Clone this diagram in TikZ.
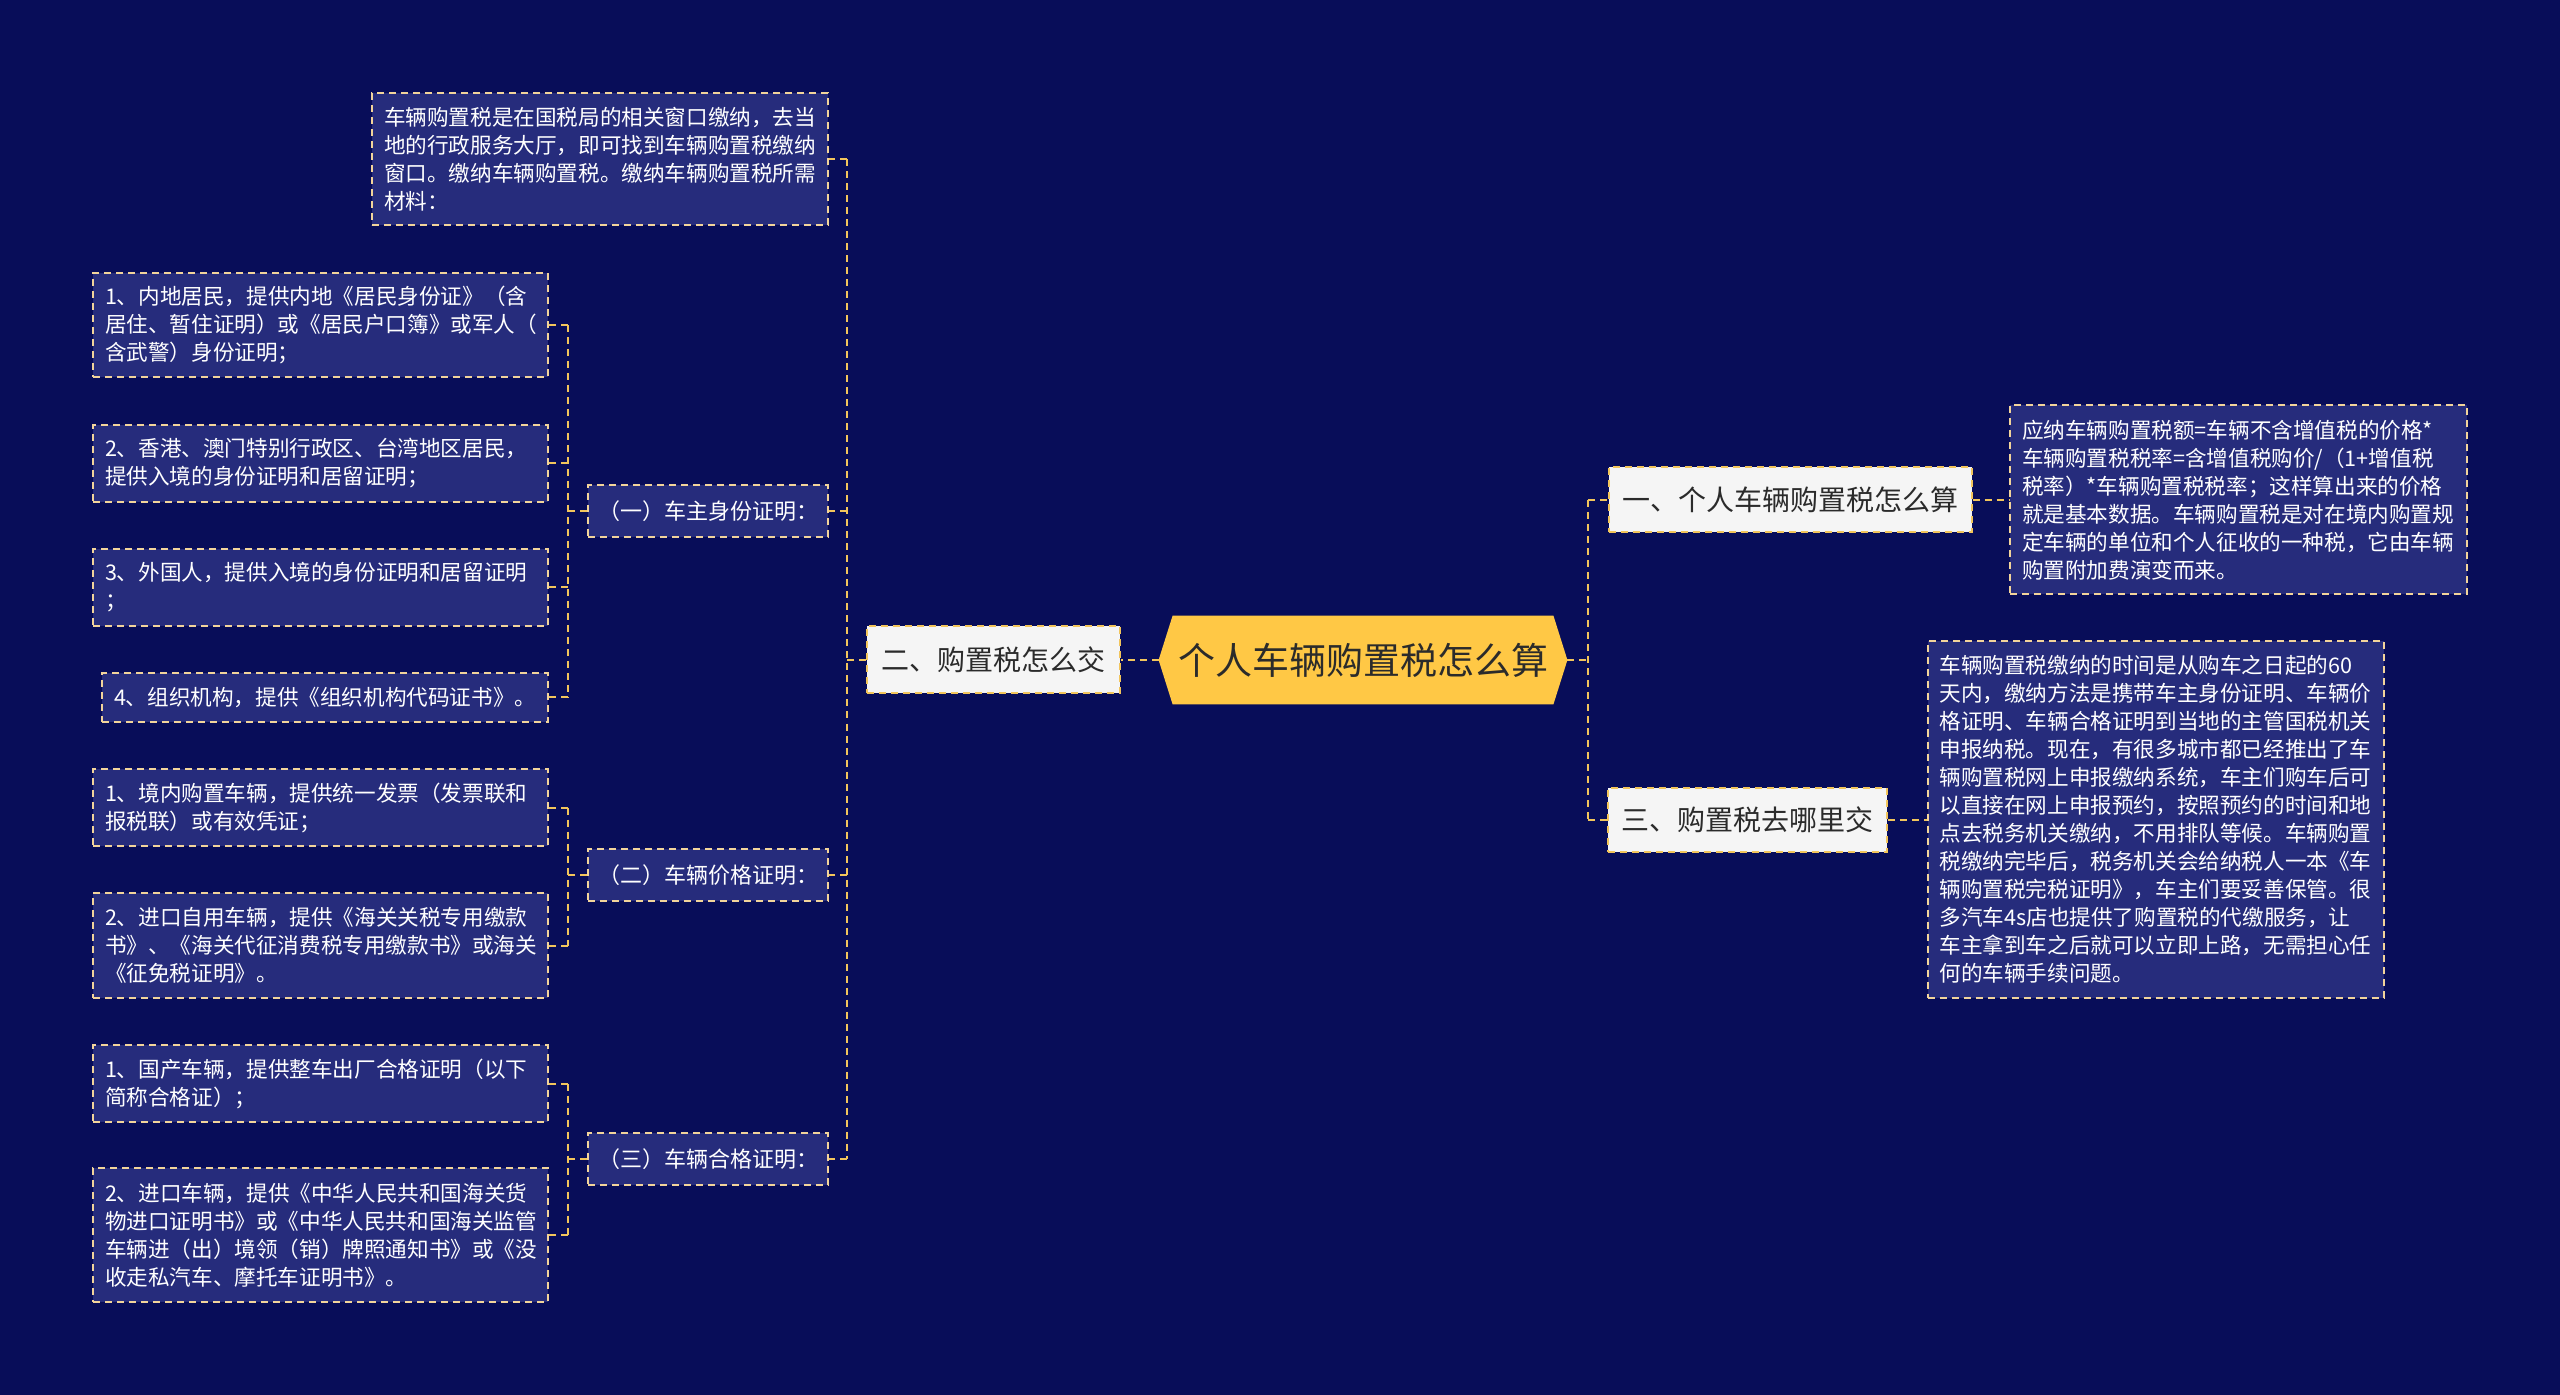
\documentclass[tikz,border=0pt]{standalone}
\usepackage{fontspec}
\newfontfamily\cjk{Noto Sans CJK SC}
\usetikzlibrary{positioning, backgrounds}

\definecolor{bgnavy}{HTML}{080D59}
\definecolor{boxnavy}{HTML}{262C7C}
\definecolor{boxedge}{HTML}{F2D49B}
\definecolor{linegold}{HTML}{F2C55C}
\definecolor{hubgold}{HTML}{FFC845}
\definecolor{topicwhite}{HTML}{F5F5F5}
\definecolor{inkdark}{HTML}{2B2B2B}

\begin{document}
\begin{tikzpicture}[x=0.5pt, y=-0.5pt,
      every node/.style={font=\cjk},
      leaf/.style={draw=boxedge, fill=boxnavy, dash pattern=on 3.5pt off 2.5pt,
                   line width=1pt, text=white, align=left, inner xsep=6pt, inner ysep=0pt,
                   font=\cjk\fontsize{10.8}{14}\selectfont},
      sub/.style={leaf, align=center, inner xsep=0pt, minimum width=120pt, minimum height=26pt,
                  font=\cjk\fontsize{11}{12}\selectfont},
      topic/.style={draw=linegold, fill=topicwhite, dash pattern=on 3.5pt off 2.5pt,
                    line width=1pt, text=inkdark, inner xsep=0pt,
                    font=\cjk\fontsize{14}{16}\selectfont},
      hub/.style={text=inkdark, inner sep=0pt, minimum width=204pt, minimum height=44pt,
                  font=\cjk\fontsize{18.5}{20}\selectfont},
      conn/.style={draw=linegold, line width=1pt, dash pattern=on 3.5pt off 2.5pt}]

    % ---- Canvas ----
    \begin{scope}[on background layer]
    \fill[bgnavy] (0,0) rectangle (2560,1395);
    \end{scope}
    \useasboundingbox (0,0) rectangle (2560,1395);

    % ---- Layout ----
    \def\lx{320.5}   % leaf column x
    \def\sx{708}     % sub column x
    \def\gx{568}     % leaf trunk x
    \def\tx{847}     % sub trunk x
    \def\rx{1588}    % right trunk x

    % ---- Root ----
    \node[hub] (root) at (1363, 660) {个人车辆购置税怎么算};
    \begin{scope}[on background layer]
    \fill[hubgold] (root.west) -- ([xshift=7pt]root.north west) -- ([xshift=-7pt]root.north east)
          -- (root.east) -- ([xshift=-7pt]root.south east) -- ([xshift=7pt]root.south west) -- cycle;
    \end{scope}

    % ---- Topics ----
    \node[topic, minimum width=126.5pt, minimum height=33.5pt] (b2) at (993.5, 660) {二、购置税怎么交};
    \node[topic, minimum width=181.5pt, minimum height=32.5pt] (b1) at (1790, 500) {一、个人车辆购置税怎么算};
    \node[topic, minimum width=139.5pt, minimum height=32pt] (b3) at (1747.5, 819.5) {三、购置税去哪里交};

    % ---- Right texts ----
    \node[leaf, text width=216.5pt, minimum height=94.5pt] (r1) at (2238.5, 500) {应纳车辆购置税额=车辆不含增值税的价格*\\
车辆购置税税率=含增值税购价/（1+增值税\\
税率）*车辆购置税税率；这样算出来的价格\\
就是基本数据。车辆购置税是对在境内购置规\\
定车辆的单位和个人征收的一种税，它由车辆\\
购置附加费演变而来。};
    \node[leaf, text width=216pt, minimum height=178pt] (r2) at (2155.5, 819.5) {车辆购置税缴纳的时间是从购车之日起的60\\
天内，缴纳方法是携带车主身份证明、车辆价\\
格证明、车辆合格证明到当地的主管国税机关\\
申报纳税。现在，有很多城市都已经推出了车\\
辆购置税网上申报缴纳系统，车主们购车后可\\
以直接在网上申报预约，按照预约的时间和地\\
点去税务机关缴纳，不用排队等候。车辆购置\\
税缴纳完毕后，税务机关会给纳税人一本《车\\
辆购置税完税证明》，车主们要妥善保管。很\\
多汽车4s店也提供了购置税的代缴服务，让\\
车主拿到车之后就可以立即上路，无需担心任\\
何的车辆手续问题。};

    % ---- Left: intro and sub heads ----
    \node[leaf, text width=216pt, minimum height=66pt] (t0) at (600, 159.5) {车辆购置税是在国税局的相关窗口缴纳，去当\\
地的行政服务大厅，即可找到车辆购置税缴纳\\
窗口。缴纳车辆购置税。缴纳车辆购置税所需\\
材料：};
    \node[sub] (s1) at (\sx, 511)  {（一）车主身份证明：};
    \node[sub] (s2) at (\sx, 875)  {（二）车辆价格证明：};
    \node[sub] (s3) at (\sx, 1159) {（三）车辆合格证明：};

    % ---- Leaves ----
    \node[leaf, text width=215.5pt, minimum height=52pt] (l1) at (\lx, 325) {1、内地居民，提供内地《居民身份证》（含\\
居住、暂住证明）或《居民户口簿》或军人（\\
含武警）身份证明；};
    \node[leaf, text width=215.5pt, minimum height=38.5pt] (l2) at (\lx, 463.5) {2、香港、澳门特别行政区、台湾地区居民，\\
提供入境的身份证明和居留证明；};
    \node[leaf, text width=215.5pt, minimum height=38.5pt] (l3) at (\lx, 587.5) {3、外国人，提供入境的身份证明和居留证明\\
；};
    \node[leaf, text width=211pt, minimum height=24.5pt] (l4) at (325, 697.5) {4、组织机构，提供《组织机构代码证书》。};

    \node[leaf, text width=215.5pt, minimum height=38.5pt] (p1) at (\lx, 807.5) {1、境内购置车辆，提供统一发票（发票联和\\
报税联）或有效凭证；};
    \node[leaf, text width=215.5pt, minimum height=52.5pt] (p2) at (\lx, 945.5) {2、进口自用车辆，提供《海关关税专用缴款\\
书》、《海关代征消费税专用缴款书》或海关\\
《征免税证明》。};

    \node[leaf, text width=215.5pt, minimum height=38.5pt] (q1) at (\lx, 1083.5) {1、国产车辆，提供整车出厂合格证明（以下\\
简称合格证）；};
    \node[leaf, text width=215.5pt, minimum height=67pt] (q2) at (\lx, 1235) {2、进口车辆，提供《中华人民共和国海关货\\
物进口证明书》或《中华人民共和国海关监管\\
车辆进（出）境领（销）牌照通知书》或《没\\
收走私汽车、摩托车证明书》。};

    % ---- Connectors: root to topics ----
    \coordinate (jl) at (\tx, 660);
    \coordinate (jr) at (\rx, 660);
    \draw[conn] (root.west) -- (b2.east);
    \draw[conn] (root.east) -- (jr);
    \draw[conn] (jr |- b1.west) -- (jr |- b3.west);
    \draw[conn] (jr |- b1.west) -- (b1.west);
    \draw[conn] (jr |- b3.west) -- (b3.west);
    \draw[conn] (b1.east) -- (b1.east -| r1.west);
    \draw[conn] (b3.east) -- (b3.east -| r2.west);

    % ---- Connectors: left trunk ----
    \draw[conn] (b2.west) -- (jl);
    \draw[conn] (jl |- t0.east) -- (jl |- s3.east);
    \foreach \n in {t0, s1, s2, s3}
        \draw[conn] (jl |- \n.east) -- (\n.east);

    % ---- Connectors: leaf groups ----
    \coordinate (g1) at (\gx, 511);
    \coordinate (g2) at (\gx, 875);
    \coordinate (g3) at (\gx, 1159);
    \draw[conn] (s1.west) -- (g1);
    \draw[conn] (s2.west) -- (g2);
    \draw[conn] (s3.west) -- (g3);
    \draw[conn] (g1 |- l1.east) -- (g1 |- l4.east);
    \draw[conn] (g2 |- p1.east) -- (g2 |- p2.east);
    \draw[conn] (g3 |- q1.east) -- (g3 |- q2.east);
    \foreach \n in {l1, l2, l3, l4}
        \draw[conn] (g1 |- \n.east) -- (\n.east);
    \foreach \n in {p1, p2}
        \draw[conn] (g2 |- \n.east) -- (\n.east);
    \foreach \n in {q1, q2}
        \draw[conn] (g3 |- \n.east) -- (\n.east);

\end{tikzpicture}
\end{document}
